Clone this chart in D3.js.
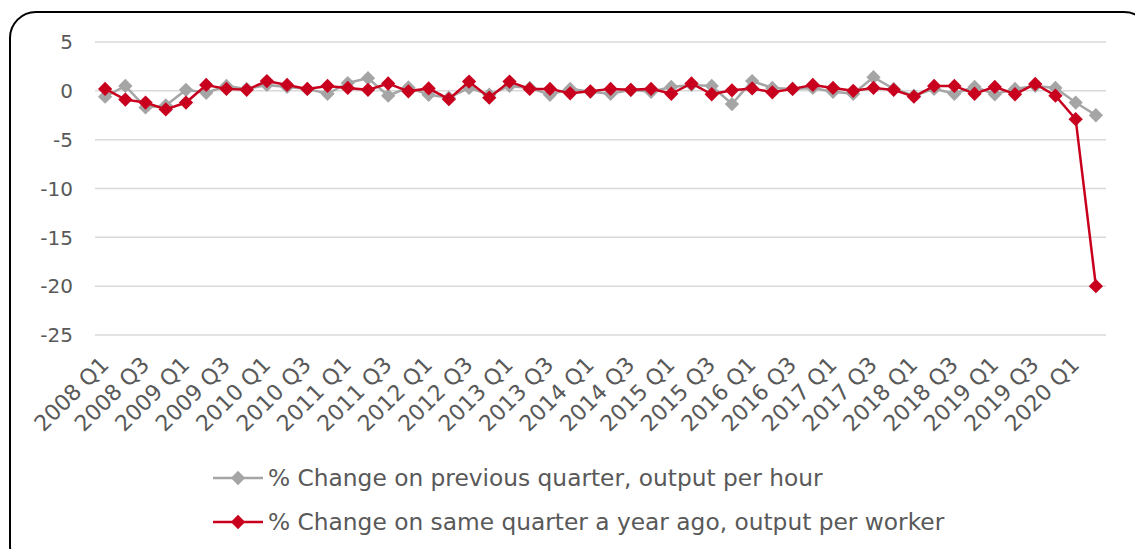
<!DOCTYPE html>
<html>
<head>
<meta charset="utf-8">
<script src="https://cdn.jsdelivr.net/npm/d3@7"></script>
<style>
  body { margin: 0; background: #fff; }
  svg text { font-family: "DejaVu Sans", sans-serif; fill: #595959; }
</style>
</head>
<body>
<div id="chart"></div>
<script>
var years = d3.range(2008, 2021);
var quarters = [];
years.forEach(function (y) {
    ["Q1", "Q2", "Q3", "Q4"].forEach(function (q) { quarters.push(y + " " + q); });
});
quarters = quarters.slice(0, 50); // 2008 Q1 .. 2020 Q2

var perHour = [
    -0.6, 0.5, -1.7, -1.5, 0.1, -0.2, 0.5, 0.2, 0.6, 0.4,
    0.2, -0.3, 0.8, 1.3, -0.5, 0.35, -0.4, -0.7, 0.3, -0.4,
    0.5, 0.3, -0.4, 0.2, -0.1, -0.3, 0.1, -0.1, 0.4, 0.6,
    0.5, -1.35, 1.0, 0.3, 0.2, 0.3, -0.1, -0.3, 1.4, 0.2,
    -0.5, 0.2, -0.3, 0.4, -0.35, 0.2, 0.5, 0.3, -1.2, -2.5
];
var perWorker = [
    0.2, -0.9, -1.2, -1.9, -1.2, 0.6, 0.2, 0.1, 1.0, 0.6,
    0.2, 0.5, 0.3, 0.1, 0.75, -0.05, 0.25, -0.85, 0.95, -0.7,
    0.95, 0.2, 0.2, -0.25, -0.05, 0.2, 0.1, 0.2, -0.3, 0.75,
    -0.35, 0.05, 0.25, -0.15, 0.2, 0.6, 0.3, 0.0, 0.3, 0.1,
    -0.6, 0.5, 0.5, -0.3, 0.4, -0.35, 0.7, -0.5, -2.9, -20.0
];
var yTicks = [5, 0, -5, -10, -15, -20, -25];
var seriesNames = [
    "% Change on previous quarter, output per hour",
    "% Change on same quarter a year ago, output per worker"
];
var seriesColors = ["#a5a5a5", "#c8001e"];

var width = 1135, height = 549;
var plot = { left: 95, right: 1106, top: 42, bottom: 335 };

var svg = d3.select("#chart").append("svg")
    .attr("width", width)
    .attr("height", height);

// rounded frame, cut off at the right and bottom edges
svg.append("rect")
    .attr("x", 10).attr("y", 12)
    .attr("width", 1140).attr("height", 560)
    .attr("rx", 26).attr("ry", 26)
    .attr("fill", "none")
    .attr("stroke", "#000")
    .attr("stroke-width", 2);

var x = d3.scaleBand()
    .domain(quarters)
    .range([plot.left, plot.right]);

var y = d3.scaleLinear()
    .domain([-25, 5])
    .range([plot.bottom, plot.top]);

// gridlines
svg.append("g").selectAll("line")
    .data(yTicks)
    .enter().append("line")
    .attr("x1", plot.left).attr("x2", plot.right)
    .attr("y1", d => y(d)).attr("y2", d => y(d))
    .attr("stroke", "#d9d9d9")
    .attr("stroke-width", 1.5);

// y labels
svg.append("g").selectAll("text")
    .data(yTicks)
    .enter().append("text")
    .attr("x", 73)
    .attr("y", d => y(d))
    .attr("dy", "0.36em")
    .attr("text-anchor", "end")
    .style("font-size", "20px")
    .text(d => d);

// x labels, every other quarter
var labelled = quarters.filter((q, i) => i % 2 === 0);
svg.append("g").selectAll("text")
    .data(labelled)
    .enter().append("text")
    .attr("transform", d => "translate(" + (x(d) + x.bandwidth() / 2 + 5) + ",366) rotate(-45)")
    .attr("text-anchor", "end")
    .style("font-size", "22px")
    .text(d => d);

var line = d3.line()
    .x((d, i) => x(quarters[i]) + x.bandwidth() / 2)
    .y(d => y(d));

var diamond = d3.symbol().type(d3.symbolDiamond2).size(130);

[perHour, perWorker].forEach(function (vals, s) {
    var g = svg.append("g");
    g.append("path")
        .datum(vals)
        .attr("d", line)
        .attr("fill", "none")
        .attr("stroke", seriesColors[s])
        .attr("stroke-width", 2.5);
    g.selectAll("path.pt")
        .data(vals)
        .enter().append("path")
        .attr("class", "pt")
        .attr("transform", (d, i) => "translate(" + (x(quarters[i]) + x.bandwidth() / 2) + "," + y(d) + ")")
        .attr("d", diamond)
        .attr("fill", seriesColors[s]);
});

// legend
var legend = svg.append("g").selectAll("g")
    .data(seriesNames)
    .enter().append("g")
    .attr("transform", (d, i) => "translate(213," + (478 + i * 44) + ")");

legend.append("line")
    .attr("x1", 0).attr("x2", 50)
    .attr("stroke", (d, i) => seriesColors[i])
    .attr("stroke-width", 2.5);
legend.append("path")
    .attr("transform", "translate(25,0)")
    .attr("d", diamond)
    .attr("fill", (d, i) => seriesColors[i]);
legend.append("text")
    .attr("x", 55)
    .attr("dy", "0.36em")
    .style("font-size", "23.3px")
    .text(d => d);
</script>
</body>
</html>
